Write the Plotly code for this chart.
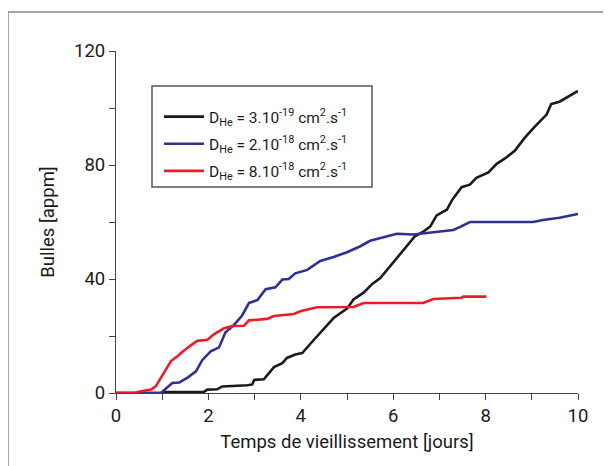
import plotly.graph_objects as go

# Black: D_He = 3e-19
x_black = [0, 1.0, 1.05, 1.9, 1.98, 2.19, 2.3, 2.63, 2.84, 2.95, 2.99, 3.2, 3.42, 3.6, 3.7, 3.88, 4.03,
           4.28, 4.5, 4.71, 5.0, 5.14, 5.36, 5.54, 5.72, 5.94, 6.15, 6.29, 6.47, 6.65, 6.8, 6.94,
           7.16, 7.27, 7.48, 7.66, 7.8, 8.06, 8.24, 8.42, 8.63, 8.85, 9.06, 9.32, 9.42, 9.6, 10.0]
y_black = [0, 0, 0.3, 0.4, 1.2, 1.3, 2.3, 2.4, 2.7, 3.0, 4.6, 4.8, 9.1, 10.5, 12.3, 13.5, 14.0,
           18.6, 22.7, 26.3, 29.6, 32.8, 35.2, 38.2, 40.3, 44.7, 48.7, 51.8, 55.0, 56.6, 58.4, 62.3,
           64.3, 67.6, 72.2, 73.1, 75.5, 77.4, 80.4, 82.3, 85.0, 89.6, 93.4, 97.7, 101.4, 102.2, 106.0]

# Blue: D_He = 2e-18
x_blue = [0, 0.97, 1.22, 1.37, 1.55, 1.73, 1.87, 2.05, 2.23, 2.37, 2.55, 2.73, 2.88, 3.06, 3.24, 3.45,
          3.6, 3.74, 3.88, 4.14, 4.42, 4.71, 5.0, 5.29, 5.5, 5.79, 6.08, 6.44, 6.87, 7.3, 7.45, 7.66,
          9.03, 9.24, 9.6, 10.0]
y_blue = [0, 0, 3.5, 3.7, 5.4, 7.6, 11.6, 14.6, 16.0, 21.3, 23.8, 27.2, 31.6, 32.6, 36.4, 37.1,
          39.8, 40.0, 42.0, 43.2, 46.3, 47.7, 49.4, 51.5, 53.4, 54.6, 55.9, 55.6, 56.3, 57.2, 58.3, 60.0,
          60.0, 60.7, 61.5, 62.8]

# Red: D_He = 8e-18
x_red = [0, 0.4, 0.54, 0.76, 0.86, 0.97, 1.08, 1.19, 1.33, 1.44, 1.62, 1.76, 1.98, 2.12, 2.34, 2.52,
         2.77, 2.88, 3.27, 3.42, 3.85, 3.99, 4.35, 5.14, 5.36, 6.65, 6.87, 7.48, 7.52, 8.02]
y_red = [0, 0, 0.6, 1.2, 2.3, 5.1, 8.3, 11.2, 12.9, 14.5, 16.7, 18.3, 18.7, 20.6, 22.7, 23.5,
         23.6, 25.5, 26.0, 27.0, 27.7, 28.7, 30.1, 30.2, 31.6, 31.6, 33.0, 33.4, 33.8, 33.8]

names = [
    "D<sub>He</sub> = 3.10<sup>-19</sup> cm<sup>2</sup>.s<sup>-1</sup>",
    "D<sub>He</sub> = 2.10<sup>-18</sup> cm<sup>2</sup>.s<sup>-1</sup>",
    "D<sub>He</sub> = 8.10<sup>-18</sup> cm<sup>2</sup>.s<sup>-1</sup>",
]
colors = ["#1a1a1a", "#2e3192", "#ed1c24"]

FONT = "Roboto, Arial, sans-serif"

fig = go.Figure()
for i, (xs, ys, n, c) in enumerate(zip([x_black, x_blue, x_red], [y_black, y_blue, y_red], names, colors)):
    fig.add_trace(go.Scatter(x=xs, y=ys, mode="lines", name=n, legendgroup=f"g{i}",
                             line=dict(color=c, width=2.6)))

W, H = 611, 466
OFF = 8  # page body offset
ml, mt = 116 - OFF, 51 - OFF
pw, ph = 462, 342
mr, mb = W - ml - pw, H - mt - ph

def px_to_paper_x(px):
    return (px - OFF - ml) / pw

def px_to_paper_y(py):
    return (mt + ph - (py - OFF)) / ph

fig.update_layout(
    width=W, height=H,
    margin=dict(l=ml, r=mr, t=mt, b=mb, autoexpand=False),
    paper_bgcolor="white", plot_bgcolor="white",
    font=dict(family=FONT, color="#1a1a1a", size=16),
    showlegend=True,
    legend=dict(
        x=px_to_paper_x(159), y=px_to_paper_y(100), xanchor="left", yanchor="top",
        borderwidth=0, bgcolor="rgba(0,0,0,0)",
        font=dict(family=FONT, size=15.5, color="#1a1a1a"),
        tracegroupgap=4, itemwidth=40,
    ),
    xaxis=dict(
        range=[0, 10], showgrid=False, zeroline=False, automargin=False,
        showline=True, linecolor="#444444", linewidth=1.2,
        ticks="outside", ticklen=6, tickcolor="#444444", tickwidth=1.2,
        tickvals=[0, 2, 4, 6, 8, 10],
        minor=dict(dtick=1, ticks="outside", ticklen=6, tickcolor="#444444", tickwidth=1.2, showgrid=False),
        tickfont=dict(size=18.5),
        title=dict(text="Temps de vieillissement [jours]", font=dict(size=18.5), standoff=8),
    ),
    yaxis=dict(
        range=[0, 120], showgrid=False, zeroline=False, automargin=False,
        showline=True, linecolor="#444444", linewidth=1.2,
        ticks="outside", ticklen=6, tickcolor="#444444", tickwidth=1.2,
        tickvals=[0, 40, 80, 120],
        minor=dict(dtick=20, ticks="outside", ticklen=6, tickcolor="#444444", tickwidth=1.2, showgrid=False),
        tickfont=dict(size=18.5),
        title=dict(text="Bulles [appm]", font=dict(size=18.5), standoff=14),
    ),
    shapes=[
        dict(
            type="rect", xref="paper", yref="paper",
            x0=px_to_paper_x(8), x1=px_to_paper_x(640),
            y0=px_to_paper_y(490), y1=px_to_paper_y(12),
            line=dict(color="#888888", width=1.5), fillcolor="rgba(0,0,0,0)", layer="below",
        ),
        dict(
            type="rect", xref="paper", yref="paper",
            x0=px_to_paper_x(152), x1=px_to_paper_x(372),
            y0=px_to_paper_y(187), y1=px_to_paper_y(86),
            line=dict(color="#555555", width=1.5), fillcolor="white", layer="above",
        ),
    ],
)

fig.write_html("out.html")
